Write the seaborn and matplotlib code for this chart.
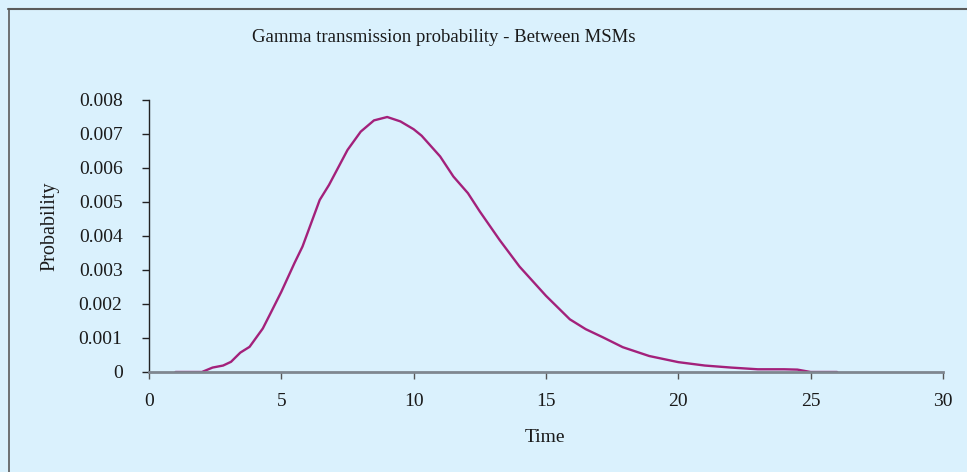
import matplotlib
matplotlib.use('Agg')
import matplotlib.pyplot as plt
from matplotlib.lines import Line2D
import pandas as pd
import seaborn as sns

# Values
time = [1, 2, 2.4, 2.8, 3.1, 3.45, 3.8, 4.3, 4.6, 5.0, 5.5, 5.8, 6.45, 6.8, 7.5,
        8.0, 8.5, 9.0, 9.5, 10.0, 10.3, 11.0, 11.5, 12.05, 12.5, 13.25, 14.0,
        15.0, 15.9, 16.5, 17.15, 17.9, 18.9, 20.0, 21.0, 22.0, 23.0, 24.0, 24.5,
        25.0, 26.0]
probability = [0, 0, 0.00013, 0.00019, 0.0003, 0.00057, 0.00074, 0.00128, 0.00174,
               0.00236, 0.00321, 0.00369, 0.00506, 0.0055, 0.00653, 0.00707, 0.0074,
               0.0075, 0.00737, 0.00714, 0.00695, 0.00634, 0.00575, 0.00526, 0.00472,
               0.00388, 0.0031, 0.00224, 0.00155, 0.00126, 0.00102, 0.00073, 0.00047,
               0.00029, 0.00019, 0.00013, 0.00008, 0.00008, 0.00007, 0, 0]

x_ticks = [0, 5, 10, 15, 20, 25, 30]
y_ticks = [0, 0.001, 0.002, 0.003, 0.004, 0.005, 0.006, 0.007, 0.008]
y_tick_labels = ['0', '0.001', '0.002', '0.003', '0.004', '0.005', '0.006', '0.007', '0.008']

df = pd.DataFrame({'Time': time, 'Probability': probability})

sns.set_style("white")
plt.rcParams['font.family'] = ['Liberation Serif', 'DejaVu Serif']

bg = '#DAF1FD'
W, H = 967, 472
fig = plt.figure(figsize=(W / 100, H / 100), dpi=100, facecolor=bg)
ax = fig.add_axes([149 / W, 1 - 372 / H, (943 - 149) / W, (372 - 100) / H])
ax.set_facecolor(bg)

sns.lineplot(data=df, x='Time', y='Probability', color='#A3217B', linewidth=1.7, ax=ax)

ax.set_xlim(0, 30)
ax.set_ylim(0, 0.008)
ax.set_xticks(x_ticks)
ax.set_yticks(y_ticks)
ax.set_yticklabels(y_tick_labels)
ax.set_xlabel('')
ax.set_ylabel('')

for s in ['top', 'right']:
    ax.spines[s].set_visible(False)
ax.spines['left'].set_color('#222222')
ax.spines['left'].set_linewidth(1.0)
ax.spines['bottom'].set_color('#7F8790')
ax.spines['bottom'].set_linewidth(2.0)

ax.tick_params(axis='y', direction='out', length=5, width=1, color='#222222',
               labelsize=14, pad=14, left=True)
ax.tick_params(axis='x', direction='out', length=5, width=1, color='#555555',
               labelsize=14, pad=10, bottom=True)
for lbl in ax.get_xticklabels() + ax.get_yticklabels():
    lbl.set_color('#1a1a1a')

# Title and axis labels placed like the reference
fig.text(444 / W, 1 - 37 / H, 'Gamma transmission probability - Between MSMs',
         ha='center', va='center', fontsize=13.5, color='#1a1a1a')
fig.text(50 / W, 1 - 226 / H, 'Probability', rotation=90, ha='center', va='center',
         fontsize=14.5, color='#1a1a1a')
fig.text(545 / W, 1 - 438 / H, 'Time', ha='center', va='center',
         fontsize=14, color='#1a1a1a')

# Chart area border (top and left edges visible)
fig.add_artist(Line2D([8 / W, 1], [1 - 8.5 / H, 1 - 8.5 / H], transform=fig.transFigure,
                      color='#5a5a5a', linewidth=1.5))
fig.add_artist(Line2D([8.5 / W, 8.5 / W], [0, 1 - 8.5 / H], transform=fig.transFigure,
                      color='#5a5a5a', linewidth=1.2))

plt.savefig('out.png', dpi=100, facecolor=bg)
